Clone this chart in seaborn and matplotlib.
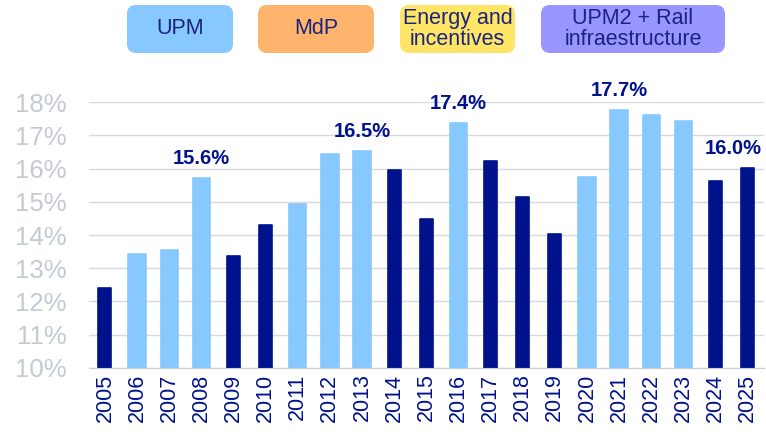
"""
Bar chart of yearly share (%), light bars for the UPM years, dark for the rest.
"""

import matplotlib
matplotlib.use('Agg')
import matplotlib.pyplot as plt
from matplotlib.patches import FancyBboxPatch
from matplotlib import font_manager
import seaborn as sns
import pandas as pd

# data
years = [str(y) for y in range(2005, 2026)]
values = [12.42, 13.42, 13.54, 15.71, 13.36, 14.30, 14.93, 16.45, 16.52, 15.95,
          14.48, 17.37, 16.23, 15.14, 14.02, 15.74, 17.75, 17.61, 17.42, 15.64, 16.02]
group = ['other', 'UPM', 'UPM', 'UPM', 'other', 'other', 'UPM', 'UPM', 'UPM', 'other',
         'other', 'UPM', 'other', 'other', 'other', 'UPM', 'UPM', 'UPM', 'UPM', 'other', 'other']
label_years = ['2008', '2013', '2016', '2021', '2025']
label_texts = ['15.6%', '16.5%', '17.4%', '17.7%', '16.0%']
legend_names = ['UPM', 'MdP', 'Energy and\nincentives', 'UPM2 + Rail\ninfraestructure']
legend_colors = ['#87C8FF', '#FFB46E', '#FFE566', '#9A96FF']

navy = '#00128C'
light = '#87C8FF'

df = pd.DataFrame({'year': years, 'value': values, 'group': group})

sns.set_style('white')
plt.rcParams['font.family'] = ['Liberation Sans', 'DejaVu Sans']

# narrow face for the top boxes if it is there
names = {f.name for f in font_manager.fontManager.ttflist}
narrow = 'Liberation Sans Narrow' if 'Liberation Sans Narrow' in names else 'Liberation Sans'

fig = plt.figure(figsize=(7.66, 4.46), dpi=100)
ax = fig.add_axes([0.116, 0.175, 0.881, 0.596])

# two passes so the light bars can be wider than the dark ones
sns.barplot(data=df[df.group == 'other'], x='year', y='value', order=years,
            color=navy, saturation=1, width=0.40, ax=ax)
sns.barplot(data=df[df.group == 'UPM'], x='year', y='value', order=years,
            color=light, saturation=1, width=0.54, ax=ax)
for p in ax.patches:
    p.set_edgecolor(p.get_facecolor())
    p.set_linewidth(1.2)
    p.set_joinstyle('round')

ax.set_ylim(10, 18)
ax.set_xlim(-0.5, len(years) - 0.5)
ax.set_yticks(range(10, 19))
ax.set_yticklabels([f'{v}%' for v in range(10, 19)], fontsize=18.5, color='#C3CAD2')
ax.set_xticks(range(len(years)))
ax.set_xticklabels(years, rotation=90, fontsize=15.5, color=navy)
ax.set_xlabel('')
ax.set_ylabel('')
ax.yaxis.grid(True, color='#D5DAE0', linewidth=1)
ax.set_axisbelow(True)
for s in ['top', 'right', 'left']:
    ax.spines[s].set_visible(False)
ax.spines['bottom'].set_color('#C8CDD3')
ax.tick_params(axis='y', length=0, pad=16)
ax.tick_params(axis='x', which='major', length=0, pad=4)
ax.set_xticks([i - 0.5 for i in range(len(years) + 1)], minor=True)
ax.tick_params(axis='x', which='minor', length=6, color='#C8CDD3')

# value labels above selected bars
for yr, txt in zip(label_years, label_texts):
    i = years.index(yr)
    v = values[i]
    xpos = i if yr != '2025' else i - 0.45
    ax.text(xpos, v + 0.3, txt, ha='center', va='bottom', fontsize=14.5,
            fontweight='bold', color=navy, clip_on=False)

# coloured boxes along the top
box_x = [127, 258, 400, 541]
box_w = [106, 116, 115, 184]
for name, col, bx, bw in zip(legend_names, legend_colors, box_x, box_w):
    x0, y0 = bx / 766, 1 - 53 / 446
    w, h = bw / 766, 48 / 446
    fig.patches.append(FancyBboxPatch((x0, y0), w, h, boxstyle='round,pad=0,rounding_size=0.012',
                                      transform=fig.transFigure, facecolor=col,
                                      edgecolor='none', mutation_aspect=766 / 446))
    fig.text(x0 + w / 2, y0 + h / 2, name, ha='center', va='center', fontsize=15.5,
             color='#1A237E', linespacing=1.0, family=[narrow, 'DejaVu Sans'])

fig.savefig('out.png', dpi=100)
